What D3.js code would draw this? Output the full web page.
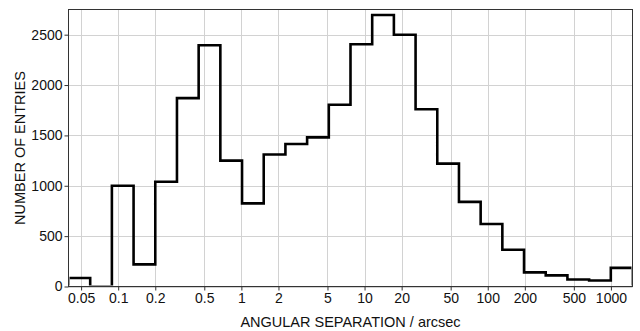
<!DOCTYPE html>
<html>
<head>
<meta charset="utf-8">
<script src="https://cdn.jsdelivr.net/npm/d3@7/dist/d3.min.js"></script>
<style>
  html, body { margin: 0; padding: 0; background: #fff; }
  svg { display: block; font-family: "Liberation Sans", Arial, sans-serif; }
</style>
</head>
<body>
<svg id="chart" width="640" height="331"></svg>
<script>
// Histogram bin edges (arcsec), logarithmic bins with ratio 1.5
const binEdges = [0.039506, 0.059259, 0.088889, 0.133333, 0.2, 0.3, 0.45, 0.675,
  1.0125, 1.51875, 2.278125, 3.417188, 5.125781, 7.688672, 11.533, 17.2995, 25.949,
  38.924, 58.386, 87.579, 131.37, 197.05, 295.58, 443.37, 665.05, 997.58, 1496.4];
// Number of entries per bin
const counts = [85, 0, 1000, 220, 1040, 1870, 2395, 1250, 825, 1310, 1415, 1480,
  1805, 2405, 2695, 2500, 1760, 1220, 840, 620, 365, 140, 110, 70, 60, 185];
const xTicks = [0.05, 0.1, 0.2, 0.5, 1, 2, 5, 10, 20, 50, 100, 200, 500, 1000];
const yTicks = [0, 500, 1000, 1500, 2000, 2500];

const svg = d3.select("#chart");
const plotL = 68.5, plotR = 632.5, plotT = 9.5, plotB = 286.5;

const x = d3.scaleLog().domain([binEdges[0], binEdges[binEdges.length - 1]]).range([plotL, plotR]);
const y = d3.scaleLinear().domain([0, 2750]).range([plotB, plotT]);

// clip the outline to the inside of the frame
svg.append("defs").append("clipPath").attr("id", "inner")
  .append("rect")
  .attr("x", plotL + 1).attr("y", plotT)
  .attr("width", plotR - plotL - 2).attr("height", plotB - plotT - 1);

// grid
const grid = svg.append("g").attr("stroke", "#d2d2d2").attr("stroke-width", 1);
grid.selectAll("line.gx").data(xTicks).join("line")
  .attr("x1", d => Math.round(x(d)) + 0.5).attr("x2", d => Math.round(x(d)) + 0.5)
  .attr("y1", plotT).attr("y2", plotB);
grid.selectAll("line.gy").data(yTicks).join("line")
  .attr("y1", d => Math.round(y(d)) + 0.5).attr("y2", d => Math.round(y(d)) + 0.5)
  .attr("x1", plotL).attr("x2", plotR);

// axes
const xAxis = d3.axisBottom(x).tickValues(xTicks).tickFormat(d => String(d)).tickSize(4).tickPadding(3);
const yAxis = d3.axisLeft(y).tickValues(yTicks).tickFormat(d => String(d)).tickSize(4).tickPadding(2);

const gx = svg.append("g").attr("transform", `translate(0,${plotB})`).call(xAxis);
const gy = svg.append("g").attr("transform", `translate(${plotL},0)`).call(yAxis);
[gx, gy].forEach(g => {
  g.select(".domain").remove();
  g.selectAll(".tick line").attr("stroke", "#333");
  g.selectAll(".tick text").attr("fill", "#111").style("font-size", "14px")
    .style("font-family", "'Liberation Sans', Arial, sans-serif");
});

// step outline
const pts = [[binEdges[0], 0]];
counts.forEach((c, i) => { pts.push([binEdges[i], c]); pts.push([binEdges[i + 1], c]); });
pts.push([binEdges[binEdges.length - 1], 0]);

svg.append("path")
  .datum(pts)
  .attr("clip-path", "url(#inner)")
  .attr("fill", "none")
  .attr("stroke", "#000")
  .attr("stroke-width", 2.6)
  .attr("stroke-linejoin", "miter")
  .attr("d", d3.line().x(d => x(d[0])).y(d => y(d[1])));

// frame
svg.append("rect")
  .attr("x", plotL).attr("y", plotT)
  .attr("width", plotR - plotL).attr("height", plotB - plotT)
  .attr("fill", "none").attr("stroke", "#333").attr("stroke-width", 1);

// axis titles
svg.append("text")
  .attr("x", (plotL + plotR) / 2).attr("y", 327)
  .attr("text-anchor", "middle").attr("fill", "#111")
  .style("font-size", "14.5px")
  .text("ANGULAR SEPARATION / arcsec");

svg.append("text")
  .attr("transform", `translate(25,${(plotT + plotB) / 2}) rotate(-90)`)
  .attr("text-anchor", "middle").attr("fill", "#111")
  .style("font-size", "14.5px")
  .text("NUMBER OF ENTRIES");
</script>
</body>
</html>
